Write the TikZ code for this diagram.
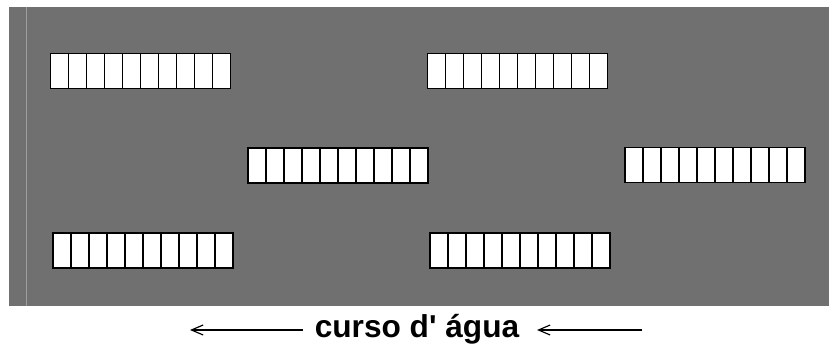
\documentclass[tikz,border=0pt]{standalone}
\usepackage{fontspec}
\setmainfont{Liberation Sans}
\usetikzlibrary{arrows.meta}
\definecolor{fundo}{gray}{.44}
\definecolor{risca}{gray}{.62}

\begin{document}
\begin{tikzpicture}[
        x=0.03cm, y=-0.03cm,
        predio/.style={draw, fill=white, line width=1.3pt, minimum width=5.4cm, minimum height=1.05cm,
            inner sep=0pt, path picture={
                \foreach \k in {1,...,9}
                    \draw[line width=1.3pt] ([xshift=\k*0.54cm]path picture bounding box.south west)
                        -- ([xshift=\k*0.54cm]path picture bounding box.north west);
            }},
        seta/.style={-{Straight Barb[length=3.5mm, width=3mm, line width=1pt]}, line width=1pt}
    ]
        \useasboundingbox (0,0) rectangle (829,345);
        % terreno
        \fill[fundo] (9,7) rectangle (829,306);
        \draw[risca, line width=0.6pt] (26,7) -- (26,306);
        % predios
        \node (p1) [predio] at (140.5,71)  {};
        \node (p2) [predio] at (517.5,71)  {};
        \node (p3) [predio] at (338,165.5) {};
        \node (p4) [predio] at (715,165)   {};
        \node (p5) [predio] at (143,250.5) {};
        \node (p6) [predio] at (520,250.5) {};
        % rio
        \node (rio) [anchor=base, font=\fontsize{27}{30}\selectfont\bfseries, inner sep=0pt] at (417,338) {curso d\textquotesingle\ água};
        \coordinate (e1) at (303,330);
        \coordinate (e2) at (190,330);
        \coordinate (d1) at (642,330);
        \coordinate (d2) at (537,330);
        \draw[seta] (e1) -- (e2);
        \draw[seta] (d1) -- (d2);
    \end{tikzpicture}
\end{document}
